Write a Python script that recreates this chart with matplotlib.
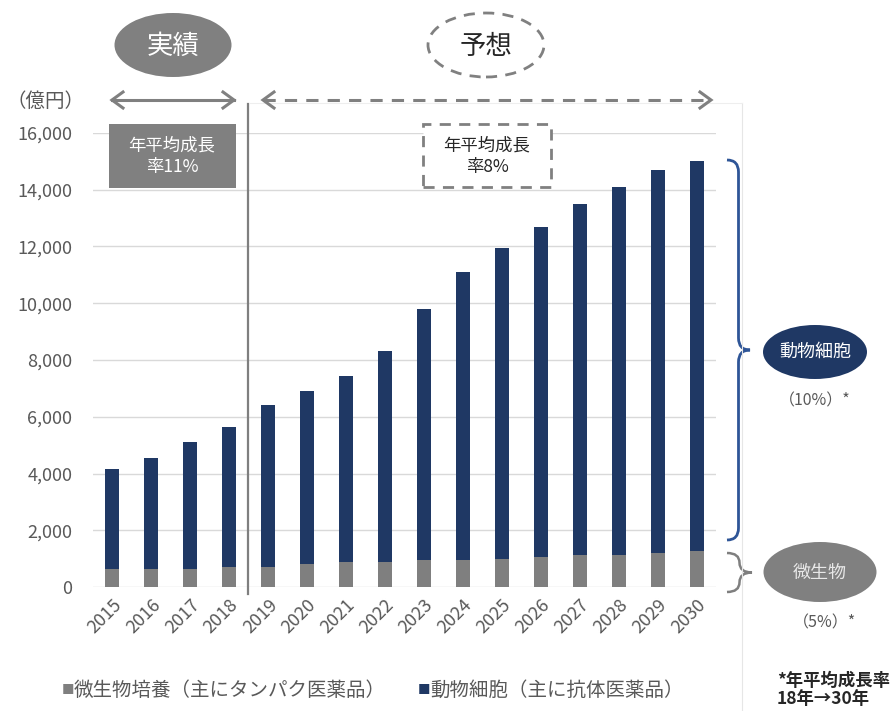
import matplotlib
matplotlib.use("Agg")
import matplotlib.pyplot as plt
from matplotlib.patches import Ellipse, Rectangle, PathPatch
from matplotlib.path import Path
from matplotlib.lines import Line2D

plt.rcParams['font.family'] = ['Noto Sans CJK JP', 'DejaVu Sans']

years = ['2015', '2016', '2017', '2018', '2019', '2020', '2021', '2022',
         '2023', '2024', '2025', '2026', '2027', '2028', '2029', '2030']
microbe = [650, 650, 650, 700, 700, 800, 870, 870, 940, 940, 1000, 1070, 1140, 1140, 1210, 1280]
total = [4150, 4550, 5100, 5650, 6400, 6900, 7450, 8300, 9800, 11100, 11950, 12700, 13500, 14100, 14700, 15000]
animal = [t - m for t, m in zip(total, microbe)]
yticks = [0, 2000, 4000, 6000, 8000, 10000, 12000, 14000, 16000]

NAVY = '#1f3864'
GREY = '#7f7f7f'
TXT = '#595959'

W, H = 895, 711
fig = plt.figure(figsize=(W / 100, H / 100), dpi=100)

def fx(x):
    return x / W

def fy(y):
    return 1 - y / H

ax = fig.add_axes([fx(93), fy(587), (716 - 93) / W, (587 - 133) / H])
x = list(range(len(years)))
ax.bar(x, microbe, width=0.36, color=GREY, zorder=3)
ax.bar(x, animal, bottom=microbe, width=0.36, color=NAVY, zorder=3)
ax.set_xlim(-0.5, len(years) - 0.5)
ax.set_ylim(0, 16000)
ax.set_yticks(yticks)
ax.set_yticklabels([f'{v:,}' for v in yticks], fontsize=13, color=TXT)
ax.set_xticks(x)
ax.set_xticklabels(years, rotation=45, ha='right', rotation_mode='anchor', fontsize=13, color=TXT)
ax.tick_params(axis='y', length=0, pad=15)
ax.tick_params(axis='x', length=0, pad=6)
ax.grid(axis='y', color='#d9d9d9', linewidth=1, zorder=0)
for s in ax.spines.values():
    s.set_visible(False)

# Separator line between actual and forecast
fig.add_artist(Line2D([fx(248), fx(248)], [fy(104), fy(594)], color='#7f7f7f', lw=1.6))
# Faint frame line at right
fig.add_artist(Line2D([fx(742), fx(742)], [fy(103), fy(711)], color='#e6e6e6', lw=0.8))
fig.add_artist(Line2D([fx(250), fx(742)], [fy(103), fy(103)], color='#eeeeee', lw=0.8))

# y-axis unit
fig.text(fx(6), fy(101), '（億円）', fontsize=14, color=TXT, va='center', ha='left')

# Arrows
def chevron(xt, yt, direction, color, lw=2.2, dx=11, dy=8):
    fig.add_artist(Line2D([fx(xt - direction * dx), fx(xt), fx(xt - direction * dx)],
                          [fy(yt - dy), fy(yt), fy(yt + dy)], color=color, lw=lw,
                          solid_joinstyle='miter'))

fig.add_artist(Line2D([fx(112), fx(234)], [fy(100), fy(100)], color='#808080', lw=2.2))
chevron(112, 100, -1, '#808080')
chevron(234, 100, 1, '#808080')
fig.add_artist(Line2D([fx(263), fx(710)], [fy(100), fy(100)], color='#808080', lw=2.2,
                      linestyle=(0, (4, 3))))
chevron(263, 100, -1, '#808080')
chevron(711, 100, 1, '#808080')

# Ellipse labels on top
fig.add_artist(Ellipse((fx(173), fy(45)), (232 - 115) / W, 64 / H, transform=fig.transFigure,
                       facecolor='#808080', edgecolor='none'))
fig.text(fx(173), fy(46), '実績', fontsize=19, color='white', ha='center', va='center')
fig.add_artist(Ellipse((fx(486), fy(45)), 116 / W, 64 / H, transform=fig.transFigure,
                       facecolor='white', edgecolor='#808080', lw=2, linestyle=(0, (4, 3))))
fig.text(fx(486), fy(46), '予想', fontsize=19, color='#262626', ha='center', va='center')

# Growth boxes
fig.add_artist(Rectangle((fx(109), fy(188)), (236 - 109) / W, (188 - 124) / H,
                         transform=fig.transFigure, facecolor='#808080', edgecolor='none'))
fig.text(fx(172), fy(156), '年平均成長\n率11%', fontsize=12.5, color='white', ha='center',
         va='center', linespacing=1.25)
fig.add_artist(Rectangle((fx(423), fy(187)), (551 - 423) / W, (187 - 124) / H,
                         transform=fig.transFigure, facecolor='white', edgecolor='#808080',
                         lw=2, linestyle=(0, (4, 3))))
fig.text(fx(487), fy(156), '年平均成長\n率8%', fontsize=12.5, color='#262626', ha='center',
         va='center', linespacing=1.25)

# Braces
def brace(x0, ytop, ybot, xtip, color, lw):
    ym = (ytop + ybot) / 2
    xm = (x0 + xtip) / 2
    r = min(12, (ybot - ytop) / 4)
    pts = [(x0, ytop), (xm, ytop), (xm, ytop + r),
           (xm, ym - r),
           (xm, ym), (xtip, ym),
           (xm, ym), (xm, ym + r),
           (xm, ybot - r),
           (xm, ybot), (x0, ybot)]
    codes = [Path.MOVETO, Path.CURVE3, Path.CURVE3,
             Path.LINETO,
             Path.CURVE3, Path.CURVE3,
             Path.CURVE3, Path.CURVE3,
             Path.LINETO,
             Path.CURVE3, Path.CURVE3]
    verts = [(fx(px), fy(py)) for px, py in pts]
    fig.add_artist(PathPatch(Path(verts, codes), transform=fig.transFigure, facecolor='none',
                             edgecolor=color, lw=lw))

brace(727, 160, 540, 750, '#2e5597', 2.0)
brace(727, 553, 592, 752, '#7f7f7f', 1.8)

# Right side labels
fig.add_artist(Ellipse((fx(815), fy(352)), 104 / W, 54 / H, transform=fig.transFigure,
                       facecolor=NAVY, edgecolor='none'))
fig.text(fx(815), fy(352), '動物細胞', fontsize=13, color='white', ha='center', va='center')
fig.text(fx(815), fy(401), '（10%）*', fontsize=11.5, color=TXT, ha='center', va='center')
fig.add_artist(Ellipse((fx(820), fy(572)), 113 / W, 60 / H, transform=fig.transFigure,
                       facecolor='#808080', edgecolor='none'))
fig.text(fx(820), fy(573), '微生物', fontsize=13, color='#e8e8e8', ha='center', va='center')
fig.text(fx(825), fy(623), '（5%）*', fontsize=11.5, color=TXT, ha='center', va='center')
fig.text(fx(777), fy(690), '*年平均成長率\n18年→30年', fontsize=12.5, color='#262626',
         ha='left', va='center', fontweight='bold', linespacing=1.05)

# Legend
fig.text(fx(62), fy(690), '■', fontsize=9, color=GREY, ha='left', va='center')
fig.text(fx(74), fy(690), '微生物培養（主にタンパク医薬品）', fontsize=14, color=TXT,
         ha='left', va='center')
fig.text(fx(418), fy(690), '■', fontsize=9, color=NAVY, ha='left', va='center')
fig.text(fx(430), fy(690), '動物細胞（主に抗体医薬品）', fontsize=14, color=TXT,
         ha='left', va='center')

fig.savefig('out.png', dpi=100)
